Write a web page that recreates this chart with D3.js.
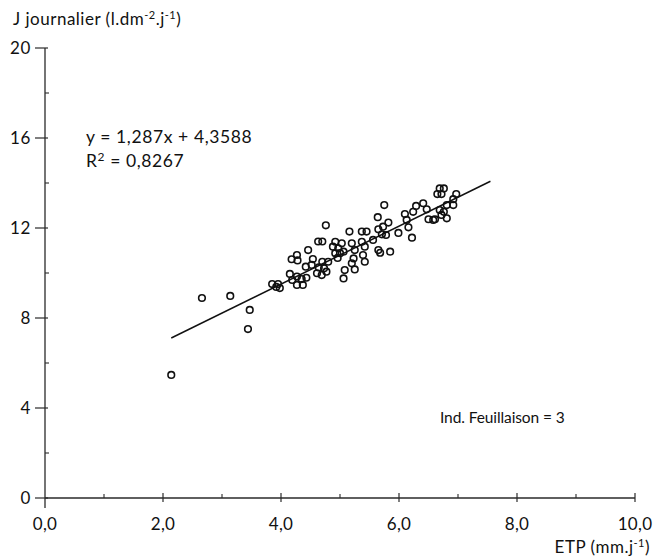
<!DOCTYPE html>
<html>
<head>
<meta charset="utf-8">
<script src="https://cdn.jsdelivr.net/npm/d3@7"></script>
<style>
  html, body { margin: 0; padding: 0; background: #fff; }
  svg { display: block; }
  text { font-family: Lato, "Open Sans", sans-serif; fill: #111; }
</style>
</head>
<body>
<svg id="chart" width="653" height="560"></svg>
<script>
// ETP (mm/j) values
const etp = [2.14,2.66,3.14,3.47,3.44,3.85,3.95,3.98,3.92,4.15,4.19,4.27,4.37,4.35,4.43,4.27,
  4.18,4.27,4.28,4.46,4.42,4.52,4.54,4.61,4.69,4.64,4.73,4.70,4.80,4.77,4.63,4.70,4.76,
  4.88,4.92,4.97,5.03,5.00,4.92,4.96,5.06,5.08,5.06,5.16,5.20,5.25,5.23,5.20,5.25,
  5.37,5.45,5.37,5.42,5.39,5.42,5.56,5.65,5.71,5.65,5.68,5.85,5.64,5.75,5.82,5.73,5.78,
  5.99,6.10,6.13,6.16,6.22,6.24,6.29,6.41,6.47,6.50,6.58,6.69,6.76,6.65,6.72,6.97,6.92,
  6.92,6.81,6.76,6.81,6.69,6.72,6.61];
// J journalier (l.dm-2.j-1) values
const jj = [5.47,8.89,8.98,8.36,7.51,9.51,9.51,9.33,9.38,9.96,9.69,9.47,9.47,9.73,9.79,9.84,
  10.61,10.80,10.56,11.02,10.28,10.36,10.62,9.99,9.91,10.25,10.21,10.50,10.50,10.06,11.40,11.40,12.12,
  11.17,11.39,11.10,11.32,10.88,10.88,10.67,9.76,10.13,10.95,11.84,11.32,11.02,10.65,10.43,10.16,
  11.84,11.84,11.39,11.17,10.80,10.50,11.47,11.94,11.72,11.02,10.90,10.95,12.48,13.02,12.24,12.06,11.69,
  11.78,12.62,12.36,12.03,11.57,12.72,12.98,13.10,12.83,12.39,12.36,13.76,13.76,13.51,13.51,13.51,13.28,
  13.02,13.02,12.72,12.43,12.80,12.58,12.39];
const slope = 1.287, intercept = 4.3588;
const fitRange = [2.14, 7.55];
const xMajor = [0, 2, 4, 6, 8, 10];
const xMinor = [1, 3, 5, 7, 9];
const yMajor = [0, 4, 8, 12, 16, 20];
const yMinor = [2, 6, 10, 14, 18];
const xTickLabels = ["0,0", "2,0", "4,0", "6,0", "8,0", "10,0"];

const svg = d3.select("#chart");
const x = d3.scaleLinear().domain([0, 10]).range([45, 635]);
const y = d3.scaleLinear().domain([0, 20]).range([498, 48]);
const axisColor = "#2a2a2a";

// Y axis
const gy = svg.append("g").attr("transform", `translate(${x(0)},0)`);
gy.append("line").attr("x1", 0).attr("x2", 0).attr("y1", y(20)).attr("y2", y(0) + 10)
  .attr("stroke", axisColor).attr("stroke-width", 1.3);
gy.selectAll(".ymaj").data(yMajor).join("line")
  .attr("class", "ymaj")
  .attr("x1", -10).attr("x2", 3).attr("y1", d => y(d)).attr("y2", d => y(d))
  .attr("stroke", axisColor).attr("stroke-width", 1.2);
gy.selectAll(".ymin").data(yMinor).join("line")
  .attr("class", "ymin")
  .attr("x1", 0).attr("x2", 4).attr("y1", d => y(d)).attr("y2", d => y(d))
  .attr("stroke", axisColor).attr("stroke-width", 1.1);
gy.selectAll(".ylab").data(yMajor).join("text")
  .attr("class", "ylab")
  .attr("x", -14).attr("y", d => y(d)).attr("dy", "0.35em")
  .attr("text-anchor", "end").attr("font-size", 17).attr("letter-spacing", 0.6).text(d => d);

// X axis
const gx = svg.append("g").attr("transform", `translate(0,${y(0)})`);
gx.append("line").attr("x1", x(0)).attr("x2", x(10)).attr("y1", 0).attr("y2", 0)
  .attr("stroke", axisColor).attr("stroke-width", 1.3);
gx.selectAll(".xmaj").data(xMajor.slice(1)).join("line")
  .attr("class", "xmaj")
  .attr("x1", d => x(d)).attr("x2", d => x(d)).attr("y1", -5).attr("y2", 4)
  .attr("stroke", axisColor).attr("stroke-width", 1.2);
gx.selectAll(".xmin").data(xMinor).join("line")
  .attr("class", "xmin")
  .attr("x1", d => x(d)).attr("x2", d => x(d)).attr("y1", -4).attr("y2", 0)
  .attr("stroke", axisColor).attr("stroke-width", 1.1);
gx.selectAll(".xlab").data(xMajor).join("text")
  .attr("class", "xlab")
  .attr("x", d => x(d)).attr("y", 32)
  .attr("text-anchor", "middle").attr("font-size", 17).attr("letter-spacing", 0.3)
  .text((d, i) => xTickLabels[i]);

// Axis titles
const yt = svg.append("text").attr("x", 13).attr("y", 25).attr("font-size", 17)
  .attr("letter-spacing", 0.5);
yt.append("tspan").text("J journalier (l.dm");
yt.append("tspan").attr("dy", -6).attr("font-size", 11).text("-2");
yt.append("tspan").attr("dy", 6).text(".j");
yt.append("tspan").attr("dy", -6).attr("font-size", 11).text("-1");
yt.append("tspan").attr("dy", 6).text(")");

const xt = svg.append("text").attr("x", 650).attr("y", 553).attr("font-size", 17)
  .attr("letter-spacing", 0.5).attr("text-anchor", "end");
xt.append("tspan").text("ETP (mm.j");
xt.append("tspan").attr("dy", -6).attr("font-size", 11).text("-1");
xt.append("tspan").attr("dy", 6).text(")");

// Regression line
svg.append("line")
  .attr("x1", x(fitRange[0])).attr("y1", y(slope * fitRange[0] + intercept))
  .attr("x2", x(fitRange[1])).attr("y2", y(slope * fitRange[1] + intercept))
  .attr("stroke", "#111").attr("stroke-width", 1.5);

// Points
svg.append("g").selectAll("circle").data(etp.map((v, i) => [v, jj[i]])).join("circle")
  .attr("cx", d => x(d[0])).attr("cy", d => y(d[1])).attr("r", 3.3)
  .attr("fill", "none").attr("stroke", "#111").attr("stroke-width", 1.6);

// Annotations
svg.append("text").attr("x", 86).attr("y", 143).attr("font-size", 17.5)
  .attr("letter-spacing", 0.6)
  .text("y = 1,287x + 4,3588");
const r2 = svg.append("text").attr("x", 86).attr("y", 167).attr("font-size", 17.5)
  .attr("letter-spacing", 0.6);
r2.append("tspan").text("R");
r2.append("tspan").attr("dy", -6).attr("font-size", 12).text("2");
r2.append("tspan").attr("dy", 6).text(" = 0,8267");

svg.append("text").attr("x", 440).attr("y", 423).attr("font-size", 15.5)
  .attr("letter-spacing", -0.1)
  .text("Ind. Feuillaison = 3");
</script>
</body>
</html>
